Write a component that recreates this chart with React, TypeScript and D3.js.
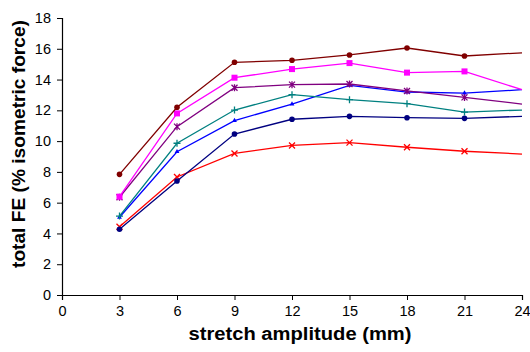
import { useRef, useEffect } from 'react';
import * as d3 from 'd3';

const amplitudes = [3, 6, 9, 12, 15, 18, 21, 24];

const seriesDarkRed = [7.84, 12.2, 15.12, 15.25, 15.6, 16.05, 15.53, 15.74];
const seriesMagenta = [6.39, 11.8, 14.12, 14.68, 15.07, 14.45, 14.53, 13.34];
const seriesPurple = [6.35, 10.94, 13.47, 13.67, 13.71, 13.26, 12.84, 12.41];
const seriesTeal = [5.13, 9.86, 12.02, 13.02, 12.69, 12.43, 11.89, 12.02];
const seriesBlue = [5.05, 9.31, 11.33, 12.41, 13.62, 13.19, 13.12, 13.34];
const seriesNavy = [4.27, 7.41, 10.46, 11.42, 11.61, 11.52, 11.48, 11.61];
const seriesRed = [4.44, 7.67, 9.2, 9.72, 9.9, 9.6, 9.34, 9.16];

const xTicks = [0, 3, 6, 9, 12, 15, 18, 21, 24];
const yTicks = [0, 2, 4, 6, 8, 10, 12, 14, 16, 18];

const series = [
  { values: seriesRed, color: '#ff0000', marker: 'x' },
  { values: seriesNavy, color: '#000080', marker: 'circle' },
  { values: seriesBlue, color: '#0000ff', marker: 'triangle' },
  { values: seriesTeal, color: '#008080', marker: 'plus' },
  { values: seriesPurple, color: '#800080', marker: 'star' },
  { values: seriesMagenta, color: '#ff00ff', marker: 'square' },
  { values: seriesDarkRed, color: '#800000', marker: 'circle' },
];

export default function App() {
  const svgRef = useRef<SVGSVGElement>(null);

  useEffect(() => {
    const svg = d3.select(svgRef.current);
    svg.selectAll('*').remove();

    const width = 530;
    const height = 352;
    const margin = { top: 18, right: 8, bottom: 57, left: 62 };
    const innerWidth = width - margin.left - margin.right;
    const innerHeight = height - margin.top - margin.bottom;

    const x = d3.scaleLinear().domain([0, 24]).range([0, innerWidth]);
    const y = d3.scaleLinear().domain([0, 18]).range([innerHeight, 0]);

    svg.attr('width', width).attr('height', height);
    const font = '"Liberation Sans", Arial, sans-serif';

    const g = svg.append('g').attr('transform', `translate(${margin.left},${margin.top})`);

    // axes
    const yAxis = g.append('g')
      .call(d3.axisLeft(y).tickValues(yTicks).tickSize(5).tickPadding(6).tickFormat(d3.format('d')));
    const xAxis = g.append('g')
      .attr('transform', `translate(0,${innerHeight})`)
      .call(d3.axisBottom(x).tickValues(xTicks).tickSize(5).tickPadding(6).tickFormat(d3.format('d')));

    [xAxis, yAxis].forEach((a) => {
      a.select('.domain').attr('stroke', '#000').attr('stroke-width', 1.2);
      a.selectAll('.tick line').attr('stroke', '#000');
      a.selectAll('.tick text')
        .attr('fill', '#000')
        .style('font-family', font)
        .style('font-size', '14.5px');
    });
    xAxis.selectAll('.tick').filter((d) => d === 0).select('line').remove();

    const line = d3.line<number>()
      .x((_d, i) => x(amplitudes[i]))
      .y((d) => y(d));

    series.forEach((s) => {
      g.append('path')
        .datum(s.values)
        .attr('fill', 'none')
        .attr('stroke', s.color)
        .attr('stroke-width', 1.3)
        .attr('d', line);

      // markers (none at the right edge)
      const pts = s.values.slice(0, 7).map((v, i) => [x(amplitudes[i]), y(v)]);
      const mg = g.append('g');
      pts.forEach(([px, py]) => {
        const c = s.color;
        if (s.marker === 'circle') {
          mg.append('circle').attr('cx', px).attr('cy', py).attr('r', 2.8).attr('fill', c);
        } else if (s.marker === 'square') {
          mg.append('rect').attr('x', px - 3).attr('y', py - 3).attr('width', 6).attr('height', 6).attr('fill', c);
        } else if (s.marker === 'triangle') {
          mg.append('path')
            .attr('d', d3.symbol().type(d3.symbolTriangle).size(10)())
            .attr('transform', `translate(${px},${py})`)
            .attr('fill', c);
        } else if (s.marker === 'plus') {
          mg.append('path')
            .attr('d', `M${px - 3.5},${py}H${px + 3.5}M${px},${py - 3.5}V${py + 3.5}`)
            .attr('stroke', c).attr('stroke-width', 1.3);
        } else if (s.marker === 'x') {
          mg.append('path')
            .attr('d', `M${px - 3},${py - 3}L${px + 3},${py + 3}M${px - 3},${py + 3}L${px + 3},${py - 3}`)
            .attr('stroke', c).attr('stroke-width', 1.3);
        } else if (s.marker === 'star') {
          mg.append('path')
            .attr('d', `M${px - 3},${py - 3}L${px + 3},${py + 3}M${px - 3},${py + 3}L${px + 3},${py - 3}M${px},${py - 3.5}V${py + 3.5}`)
            .attr('stroke', c).attr('stroke-width', 1.3);
        }
      });
    });

    // axis titles
    svg.append('text')
      .attr('x', 300)
      .attr('y', 340)
      .attr('text-anchor', 'middle')
      .attr('textLength', 223)
      .attr('lengthAdjust', 'spacingAndGlyphs')
      .style('font-family', font)
      .style('font-size', '18px')
      .style('font-weight', 'bold')
      .text('stretch amplitude (mm)');

    svg.append('text')
      .attr('transform', 'translate(25,144) rotate(-90)')
      .attr('text-anchor', 'middle')
      .attr('textLength', 248)
      .attr('lengthAdjust', 'spacingAndGlyphs')
      .style('font-family', font)
      .style('font-size', '18px')
      .style('font-weight', 'bold')
      .text('total FE (% isometric force)');
  }, []);

  return (
    <div style={{ position: 'absolute', left: 0, top: 0 }}>
      <svg ref={svgRef} />
    </div>
  );
}
